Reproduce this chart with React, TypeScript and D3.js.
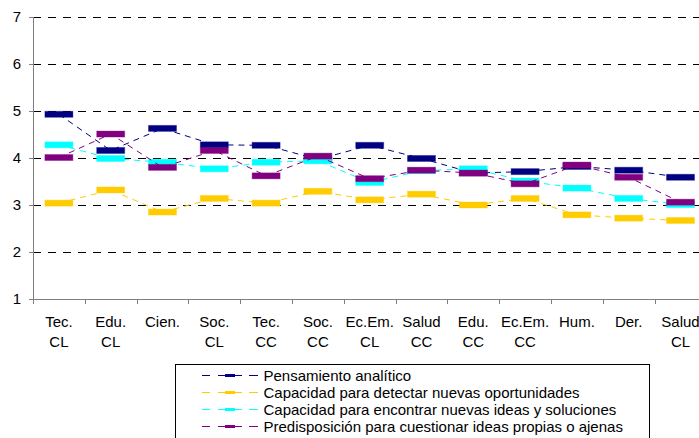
import React from "react";
import * as d3 from "d3";

const categories = [
  "Tec. CL", "Edu. CL", "Cien.", "Soc. CL", "Tec. CC", "Soc. CC", "Ec.Em. CL",
  "Salud CC", "Edu. CC", "Ec.Em. CC", "Hum.", "Der.", "Salud CL",
];
const yTicks = [1, 2, 3, 4, 5, 6, 7];

const seriesNames = [
  "Pensamiento analítico",
  "Capacidad para detectar nuevas oportunidades",
  "Capacidad para encontrar nuevas ideas y soluciones",
  "Predisposición para cuestionar ideas propias o ajenas",
];
const seriesColors = ["#000080", "#FFCC00", "#00FFFF", "#800080"];

const pensamiento = [4.93, 4.16, 4.63, 4.28, 4.27, 3.97, 4.27, 3.99, 3.68, 3.71, 3.82, 3.74, 3.59];
const detectar = [3.04, 3.32, 2.85, 3.14, 3.04, 3.29, 3.11, 3.23, 3.0, 3.14, 2.79, 2.72, 2.67];
const encontrar = [4.28, 3.99, 3.91, 3.77, 3.91, 3.94, 3.48, 3.73, 3.77, 3.51, 3.36, 3.14, 3.01];
const predisposicion = [4.01, 4.51, 3.8, 4.16, 3.62, 4.04, 3.56, 3.74, 3.68, 3.45, 3.85, 3.59, 3.06];

const seriesValues = [pensamiento, detectar, encontrar, predisposicion];

const FONT = "'Liberation Sans', Arial, sans-serif";
const FS = 15;

export default function App() {
  const W = 699, H = 438;
  const left = 33, top = 17, bottom = 299;
  const band = 51.8;
  const x = d3.scaleBand<string>().domain(categories).range([left, left + band * categories.length]).padding(0);
  const y = d3.scaleLinear().domain([1, 7]).range([bottom, top]);
  const line = d3.line<number>()
    .x((_, i) => (x(categories[i]) as number) + x.bandwidth() / 2)
    .y((d) => y(d));

  const boundaries = d3.range(categories.length + 1).map((i) => left + i * x.step());
  const legendRowY = (i: number) => 375.5 + i * 17;

  return (
    <svg width={W} height={H} style={{ position: "absolute", left: 0, top: 0, background: "#fff" }} fontFamily={FONT}>
      <rect x={0} y={0} width={W} height={H} fill="#fff" />
      {/* gridlines */}
      {yTicks.filter((t) => t > 1).map((t) => (
        <line key={"g" + t} x1={left} x2={W} y1={Math.round(y(t)) + 0.5} y2={Math.round(y(t)) + 0.5}
          stroke="#000" strokeWidth={1} strokeDasharray="8,7" />
      ))}
      {/* axes */}
      <line x1={left + 0.5} x2={left + 0.5} y1={top} y2={bottom + 0.5} stroke="#808080" strokeWidth={1} />
      <line x1={left} x2={W} y1={bottom + 0.5} y2={bottom + 0.5} stroke="#808080" strokeWidth={1} />
      {yTicks.map((t) => (
        <g key={"yt" + t}>
          <line x1={left - 4} x2={left} y1={Math.round(y(t)) + 0.5} y2={Math.round(y(t)) + 0.5} stroke="#808080" />
          <text x={21} y={y(t) + 4.5} textAnchor="end" fontSize={FS} fill="#000">{t}</text>
        </g>
      ))}
      {boundaries.map((b, i) => (
        <line key={"xt" + i} x1={Math.round(b) + 0.5} x2={Math.round(b) + 0.5} y1={bottom} y2={bottom + 5} stroke="#808080" />
      ))}
      {categories.map((c) => {
        const cx = (x(c) as number) + x.bandwidth() / 2;
        const idx = c.lastIndexOf(" ");
        const l1 = idx >= 0 ? c.slice(0, idx) : c;
        const l2 = idx >= 0 ? c.slice(idx + 1) : "";
        return (
          <g key={"xl" + c}>
            <text x={cx} y={327} textAnchor="middle" fontSize={FS} fill="#000">{l1}</text>
            {l2 && <text x={cx} y={347} textAnchor="middle" fontSize={FS} fill="#000">{l2}</text>}
          </g>
        );
      })}
      {/* series */}
      {seriesValues.map((vals, si) => (
        <g key={"s" + si}>
          <path d={line(vals) || ""} fill="none" stroke={seriesColors[si]} strokeWidth={1} strokeDasharray="6,5" />
          {vals.map((v, i) => (
            <rect key={i} x={(x(categories[i]) as number) + x.bandwidth() / 2 - 14} y={y(v) - 3} width={28} height={6}
              fill={seriesColors[si]} stroke={seriesColors[si]} strokeOpacity={0.35} strokeWidth={1} />
          ))}
        </g>
      ))}
      {/* legend */}
      <rect x={175.5} y={364.5} width={474} height={90} fill="#fff" stroke="#000" strokeWidth={1} />
      {seriesNames.map((n, i) => {
        const cy = legendRowY(i);
        return (
          <g key={"lg" + i}>
            <line x1={202} x2={258} y1={cy} y2={cy} stroke={seriesColors[i]} strokeWidth={1} strokeDasharray="8,8,24,7,9" />
            <rect x={225} y={cy - 1.5} width={10} height={3} fill={seriesColors[i]} />
            <text x={263.5} y={cy + 5} fontSize={FS} fill="#000">{n}</text>
          </g>
        );
      })}
    </svg>
  );
}
